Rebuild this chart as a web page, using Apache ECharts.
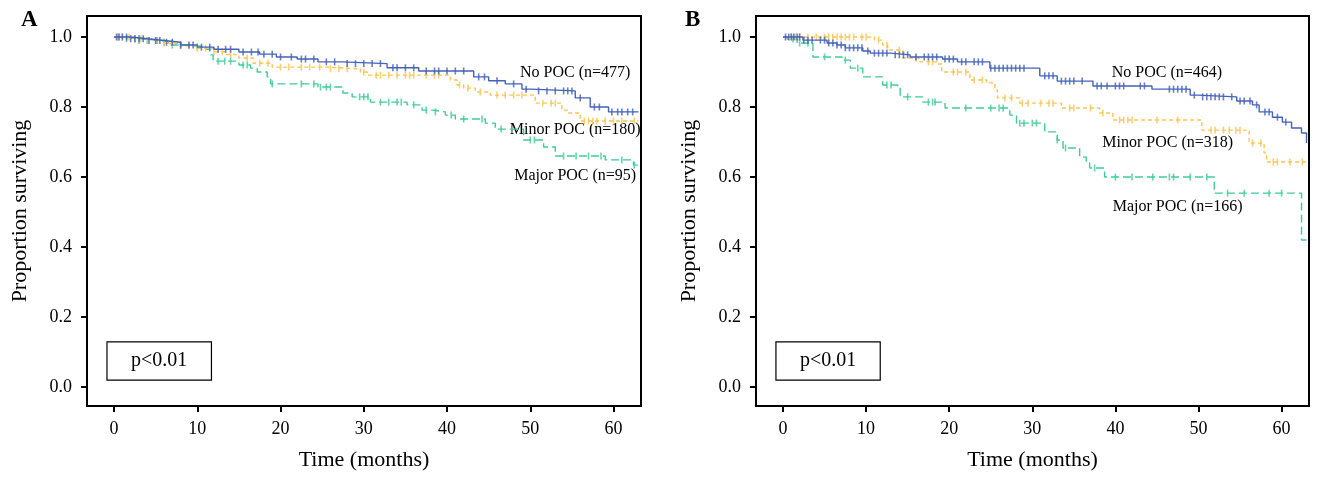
<!DOCTYPE html>
<html>
<head>
<meta charset="utf-8">
<script src="https://cdn.jsdelivr.net/npm/echarts@6/dist/echarts.min.js"></script>
<style>
  html, body { margin: 0; padding: 0; background: #fff; }
  #chart { width: 1320px; height: 477px; }
</style>
</head>
<body>
<div id="chart"></div>
<script>
// 刻度
const xTicks = [0, 10, 20, 30, 40, 50, 60];
const yTicks = [0, 0.2, 0.4, 0.6, 0.8, 1.0];

// A 图：[时间(月), 生存率]
const noPocA = [[0,1.0],[2,0.995],[4,0.99],[6,0.985],[8,0.977],[10,0.971],[12,0.965],[15,0.957],[17.5,0.951],[19.5,0.943],[22,0.937],[24.5,0.929],[27.4,0.924],[32.8,0.912],[36.6,0.903],[43.2,0.886],[45,0.875],[47,0.866],[49,0.851],[50,0.846],[55.4,0.826],[57.2,0.8],[59.4,0.786],[63,0.786]];
const minorPocA = [[0,1.0],[2,0.995],[4,0.99],[6,0.982],[8,0.975],[10,0.968],[12,0.958],[13.5,0.95],[15,0.94],[16.7,0.925],[19,0.914],[25.4,0.909],[29.6,0.9],[30.4,0.891],[40.4,0.877],[41.2,0.863],[42,0.854],[43.4,0.843],[45.2,0.834],[50.6,0.811],[53.8,0.791],[54.6,0.783],[56,0.76],[63,0.76]];
const majorPocA = [[0,1.0],[1,0.995],[3,0.99],[5.5,0.986],[6.5,0.977],[9,0.972],[11,0.965],[11.5,0.949],[11.9,0.931],[15,0.92],[16.4,0.911],[17.2,0.9],[18.4,0.886],[18.8,0.866],[24.5,0.857],[27.5,0.84],[28.6,0.829],[30.8,0.814],[35.2,0.806],[37,0.791],[38.3,0.786],[39.8,0.777],[41,0.766],[44.6,0.754],[45.8,0.737],[49.2,0.706],[51.6,0.686],[53,0.66],[59,0.649],[62.4,0.634],[63,0.634]];

// B 图
const noPocB = [[0,1.0],[2.4,0.991],[5.3,0.983],[6.5,0.977],[7.5,0.969],[9.6,0.96],[10.5,0.954],[12.9,0.949],[15.3,0.943],[19.2,0.937],[21,0.929],[24.9,0.911],[30.9,0.889],[33,0.874],[37.3,0.86],[44.4,0.851],[49,0.834],[49.9,0.829],[54.6,0.817],[56.5,0.806],[57.3,0.786],[58.9,0.771],[60.1,0.757],[61.2,0.74],[62.4,0.726],[63,0.697]];
const minorPocB = [[0,1.0],[11,0.991],[12,0.977],[12.6,0.963],[14.4,0.94],[16.5,0.929],[18.5,0.923],[19.1,0.9],[22.5,0.877],[24.5,0.869],[25.5,0.849],[25.8,0.826],[28.5,0.811],[33.5,0.797],[38.1,0.783],[39.7,0.763],[50.4,0.734],[56.1,0.697],[57.9,0.669],[58.2,0.643],[63,0.643]];
const majorPocB = [[0,1.0],[0.5,0.994],[1.7,0.983],[3.6,0.943],[7.1,0.934],[8.1,0.911],[9.6,0.886],[12,0.863],[13.8,0.857],[14.1,0.829],[16.8,0.814],[19.5,0.797],[27.3,0.777],[28.1,0.754],[31.5,0.729],[33,0.706],[33.7,0.683],[35.7,0.657],[36.5,0.64],[36.9,0.626],[38.7,0.6],[51.9,0.554],[62.4,0.42],[63,0.42]];

// 删失时间
const cenNoA = [0.3,0.6,1,1.5,2,2.5,3,3.5,4.2,5,5.5,6.3,7,8,9,9.5,10.5,11.5,12.5,13.4,14,15.5,16.5,17.3,18,19,20,21.3,22.5,23,24,25.5,26.5,28,29,30,31,32,33.5,34,35,36,37.5,38.5,39,40,41,42,43.8,44.5,46,48,49.5,51,52,53,54,54.5,55,56,57.7,58.3,59.8,60.5,61,61.7,62.3];
const cenMinorA = [0.5,1,1.8,2.5,3.2,4,5,6,7,8,9,10,11,12,13,14,16,17.5,18.5,20,21,22.5,23.5,24.7,26,27,28,30,31.5,32,33,34,35,35.5,36,37.5,38.5,39,41.5,42.5,44,46,47,48,49,51.5,52.5,53,56.5,57,57.5,58,59,60,61,62.5];
const cenMajorA = [0.5,1.5,2.5,3,4,5.2,6,7,8,10,12.5,13.3,14,15.5,16,19,22.5,24,24.8,25.5,26,29.5,30,30.5,32,33,34,34.5,36,37.5,38.6,40.5,42,44.2,46.5,50,50.5,54,55.5,57,58.5,61,62.5];
const cenNoB = [0.3,0.7,1,1.3,1.7,2,2.5,3,3.5,4.5,5,5.5,6,6.5,7,7.5,8,8.5,9,9.5,10.2,11,11.5,12,12.5,13.5,14,14.5,15,16,17,17.5,18,18.5,19.5,20,20.5,21.5,22,23,23.5,24,25,25.5,26,26.5,27,27.5,28,28.5,29,31.5,32,32.5,33.5,34,34.5,35,36,37.8,38.3,39,40,40.5,41,43,43.5,46.5,47,47.5,48,48.5,49.5,50.5,51,51.5,52,52.5,53,54,55,55.5,56.2,57,58,58.5,59.5,60.5];
const cenMinorB = [1,1.5,2,3,4,5,5.5,6,6.5,7,7.5,8,8.5,9.5,10,11.5,12.5,14,16,17.5,18,20.5,21,22,23,24,26.7,27.5,28.8,29.5,31,32,32.5,34.5,35,37,38.5,40.5,41,41.5,42,45,47.5,51.5,52,53,53.7,54.5,55,56.5,57.5,59,59.5,61,62.5];
const cenMajorB = [1.2,2,3,5,7.5,9,12.5,13,15,17.5,18,18.3,22,25,26,26.5,28.5,29,30,30.5,33,34,37.5,40,42,44.5,46.5,47,49,51,53.5,55.5,58.5,60];

const groupNames = ['No POC', 'Minor POC', 'Major POC'];
const countsA = [477, 180, 95];
const countsB = [464, 318, 166];
const colors = ['#4462b8', '#fdc451', '#3fcb98'];
const dashes = ['solid', [4, 3], [8, 4]];

const FONT = '"Liberation Serif", "Times New Roman", serif';

// 某时间点的生存率（阶梯函数）
const survAt = (curve, t) => {
  let s = curve[0][1];
  for (const p of curve) {
    if (p[0] <= t) s = p[1];
  }
  return s;
};

const chart = echarts.init(document.getElementById('chart'));

const grids = [
  { left: 87, top: 16, width: 554, height: 390 },
  { left: 756, top: 16, width: 553, height: 390 }
];

const makeX = (i) => ({
  gridIndex: i,
  type: 'value',
  min: -3.25,
  max: 63.3,
  name: 'Time (months)',
  nameLocation: 'middle',
  nameGap: 43,
  nameTextStyle: { fontFamily: FONT, fontSize: 22, color: '#000' },
  axisLine: { show: true, onZero: false, lineStyle: { color: '#000', width: 2 } },
  axisTick: { show: true, length: 6, customValues: xTicks, lineStyle: { color: '#000', width: 2 } },
  axisLabel: { customValues: xTicks, fontFamily: FONT, fontSize: 18, color: '#000', margin: 14 },
  splitLine: { show: false }
});

const makeY = (i) => ({
  gridIndex: i,
  type: 'value',
  min: -0.054,
  max: 1.06,
  name: 'Proportion surviving',
  nameLocation: 'middle',
  nameGap: 56,
  nameTextStyle: { fontFamily: FONT, fontSize: 22, color: '#000' },
  axisLine: { show: true, onZero: false, lineStyle: { color: '#000', width: 2 } },
  axisTick: { show: true, length: 6, customValues: yTicks, lineStyle: { color: '#000', width: 2 } },
  axisLabel: { customValues: yTicks, fontFamily: FONT, fontSize: 18, color: '#000', margin: 15,
    formatter: (v) => v.toFixed(1) },
  splitLine: { show: false }
});

const series = [];
const addPanel = (idx, curves, censors) => {
  curves.forEach((curve, k) => {
    series.push({
      type: 'line',
      xAxisIndex: idx,
      yAxisIndex: idx,
      step: 'end',
      data: curve,
      showSymbol: false,
      lineStyle: { color: colors[k], width: 1.4, type: dashes[k] },
      z: 3 - k
    });
    series.push({
      type: 'scatter',
      xAxisIndex: idx,
      yAxisIndex: idx,
      symbol: 'rect',
      symbolSize: [1.6, 7],
      itemStyle: { color: colors[k] },
      data: censors[k].map((t) => [t, survAt(curve, t)]),
      z: 3 - k
    });
  });
};
addPanel(0, [noPocA, minorPocA, majorPocA], [cenNoA, cenMinorA, cenMajorA]);
addPanel(1, [noPocB, minorPocB, majorPocB], [cenNoB, cenMinorB, cenMajorB]);

chart.setOption({
  animation: false,
  backgroundColor: '#fff',
  grid: grids.map((g) => ({ ...g, show: true, borderColor: '#000', borderWidth: 2, backgroundColor: 'transparent' })),
  xAxis: [makeX(0), makeX(1)],
  yAxis: [makeY(0), makeY(1)],
  series: series
});

// 注释：组名、p值、面板字母
const labelPosA = [[55.4, 0.897], [55.4, 0.734], [55.4, 0.603]];
const labelPosB = [[46.2, 0.897], [46.3, 0.697], [47.5, 0.514]];
const pBox = [[-0.85, 0.129], [11.7, 0.02]];
const letterPos = [[21, 9], [685, 9]];

const graphics = [];
const addNotes = (idx, counts, pos, letter) => {
  const finder = { xAxisIndex: idx, yAxisIndex: idx };
  pos.forEach((p, k) => {
    const px = chart.convertToPixel(finder, p);
    graphics.push({
      type: 'text', x: px[0], y: px[1],
      style: { text: groupNames[k] + ' (n=' + counts[k] + ')', font: '16px ' + FONT, fill: '#000',
        align: 'center', verticalAlign: 'middle' }
    });
  });
  const a = chart.convertToPixel(finder, pBox[0]);
  const b = chart.convertToPixel(finder, pBox[1]);
  graphics.push({
    type: 'rect',
    shape: { x: a[0], y: a[1], width: b[0] - a[0], height: b[1] - a[1] },
    style: { fill: '#fff', stroke: '#000', lineWidth: 1.2 }
  });
  graphics.push({
    type: 'text', x: (a[0] + b[0]) / 2, y: (a[1] + b[1]) / 2,
    style: { text: 'p<0.01', font: '20px ' + FONT, fill: '#000', align: 'center', verticalAlign: 'middle' }
  });
  graphics.push({
    type: 'text', x: letterPos[idx][0], y: letterPos[idx][1],
    style: { text: letter, font: 'bold 23px ' + FONT, fill: '#000' }
  });
};
addNotes(0, countsA, labelPosA, 'A');
addNotes(1, countsB, labelPosB, 'B');
chart.setOption({ graphic: graphics });
</script>
</body>
</html>
